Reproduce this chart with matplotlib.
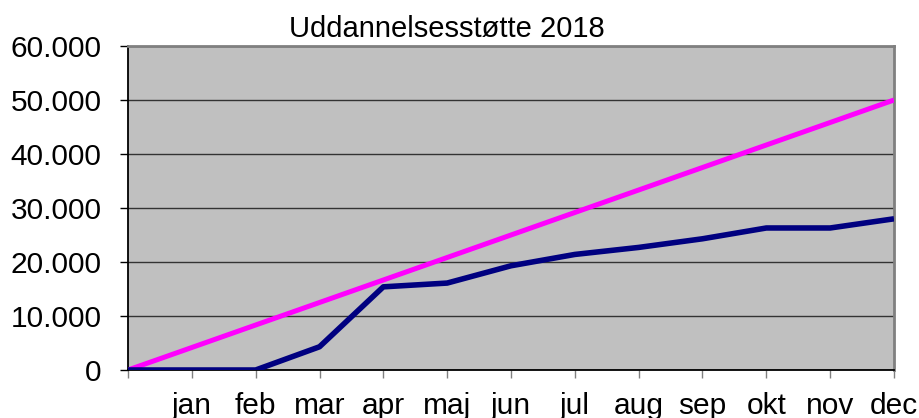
import matplotlib
matplotlib.use("Agg")
import matplotlib.pyplot as plt
from matplotlib.ticker import FuncFormatter

plt.rcParams['font.family'] = ['Liberation Sans', 'DejaVu Sans']

# months (first point is the start of the year)
months = ["", "jan", "feb", "mar", "apr", "maj", "jun", "jul", "aug", "sep", "okt", "nov", "dec"]
forbrug = [0, 0, 0, 4300, 15400, 16100, 19300, 21400, 22700, 24300, 26300, 26300, 28000]
budget = [0, 4167, 8333, 12500, 16667, 20833, 25000, 29167, 33333, 37500, 41667, 45833, 50000]
yticks = [0, 10000, 20000, 30000, 40000, 50000, 60000]

fig = plt.figure(figsize=(9.2, 4.18), dpi=100)
ax = fig.add_axes([128 / 920, 1 - 370 / 418, (894 - 128) / 920, (370 - 46) / 418])
ax.set_facecolor("#c0c0c0")

x = list(range(len(months)))
ax.plot(x, budget, color="#ff00ff", lw=3.6, solid_capstyle="butt", zorder=3)
ax.plot(x, forbrug, color="#000080", lw=4, solid_capstyle="butt", zorder=4)

ax.set_xlim(0, 12)
ax.set_ylim(0, 60000)
ax.set_yticks(yticks)
ax.yaxis.set_major_formatter(FuncFormatter(lambda v, p: f"{int(v):,}".replace(",", ".")))
ax.set_xticks(x)
ax.set_xticklabels(months)

ax.grid(axis="y", color="#333333", lw=1)
ax.set_axisbelow(True)

ax.tick_params(axis="y", labelsize=21.5, length=6, width=1, pad=13, color="black")
ax.tick_params(axis="x", labelsize=21.5, length=6, width=1, pad=10, color="#808080")

ax.spines["left"].set_color("black")
ax.spines["bottom"].set_color("black")
ax.spines["left"].set_linewidth(1.3)
ax.spines["bottom"].set_linewidth(1.3)
ax.spines["top"].set_color("#808080")
ax.spines["right"].set_color("#808080")
ax.spines["top"].set_linewidth(2)
ax.spines["right"].set_linewidth(2)

fig.text(447 / 920, 1 - 37 / 418, "Uddannelsesstøtte 2018", ha="center", va="baseline", fontsize=21)

fig.savefig("out.png", dpi=100)
